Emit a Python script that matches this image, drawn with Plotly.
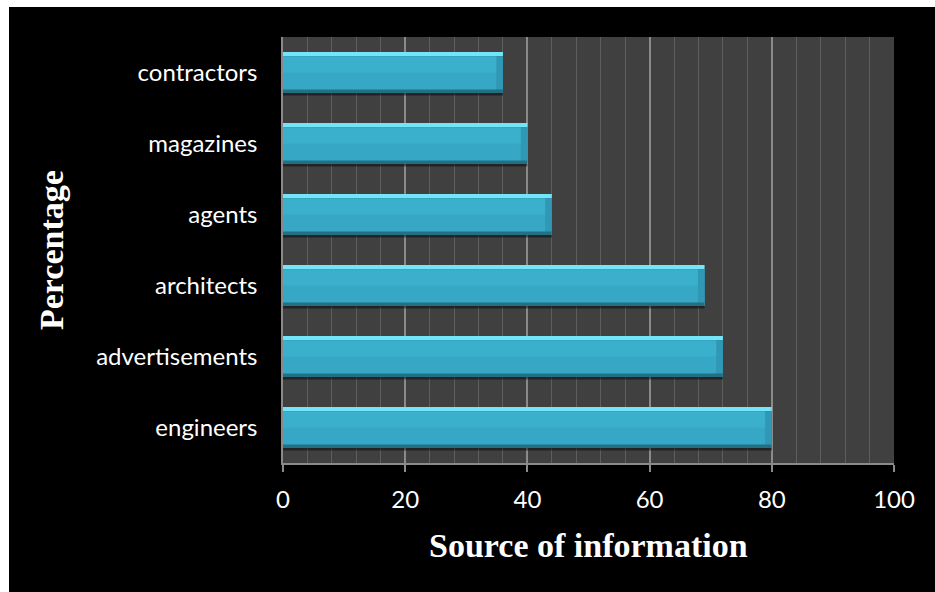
import plotly.graph_objects as go

categories = ["engineers", "advertisements", "architects", "agents", "magazines", "contractors"]
values = [80, 72, 69, 44, 40, 36]
x_ticks = [0, 20, 40, 60, 80, 100]

W, H = 935, 592
ML, MR, MT, MB = 283, 41, 37, 129
pw, ph = W - ML - MR, H - MT - MB

fig = go.Figure()

def layer(xvals, offset, width, color):
    fig.add_trace(go.Bar(
        y=categories, x=xvals, orientation="h", offset=offset, width=width,
        marker=dict(color=color, line=dict(width=0)), hoverinfo="skip",
        showlegend=False))

bw = 0.58
# shadow
layer(values, -bw / 2 - 0.035, bw, "rgba(0,0,0,0.45)")
# top highlight (full bar)
layer(values, -bw / 2, bw, "#72E6F8")
# bottom dark edge
layer(values, -bw / 2, bw - 0.06, "#236F84")
# right end bevel
layer(values, -bw / 2 + 0.05, bw - 0.115, "#3098B4")
# main face
inner = [v - 1.1 for v in values]
layer(inner, -bw / 2 + 0.055, bw - 0.12, "#36A8C6")
# upper lighter half of face
layer(inner, 0.0, bw / 2 - 0.065, "#3AB0CD")

fig.update_layout(
    width=W, height=H, barmode="overlay",
    margin=dict(l=ML, r=MR, t=MT, b=MB, pad=0),
    paper_bgcolor="#000000", plot_bgcolor="#404040",
    font=dict(family="Lato", color="#ffffff", size=24),
    xaxis=dict(
        range=[0, 100], tickvals=x_ticks, ticktext=[str(t) for t in x_ticks],
        showgrid=True, gridcolor="#8a8a8a", gridwidth=1.5,
        minor=dict(dtick=4, showgrid=True, gridcolor="#5e5e5e", gridwidth=1.2, ticks=""),
        ticks="outside", ticklen=7, tickcolor="#8a8a8a", tickwidth=1.5,
        showline=True, linecolor="#8a8a8a", linewidth=1.5,
        zeroline=False, tickfont=dict(size=24, color="#ffffff"),
        ticklabelstandoff=7, fixedrange=True,
    ),
    yaxis=dict(
        categoryorder="array", categoryarray=categories,
        showgrid=False, zeroline=False, ticks="",
        showline=True, linecolor="#8a8a8a", linewidth=1.5,
        tickfont=dict(size=24, color="#ffffff"),
        ticklabelstandoff=19, fixedrange=True,
    ),
    shapes=[
        dict(type="rect", xref="paper", yref="paper", layer="below",
             x0=-0.5, x1=(9 - ML) / pw, y0=-0.5, y1=1.5,
             fillcolor="#ffffff", line=dict(width=0)),
        dict(type="rect", xref="paper", yref="paper", layer="below",
             x0=-0.5, x1=1.5, y0=(ph + MT - 7) / ph, y1=1.5,
             fillcolor="#ffffff", line=dict(width=0)),
    ],
    annotations=[
        dict(text="<b>Source of information</b>", xref="paper", yref="paper",
             x=0.5, y=(ph - 545 + MT) / ph, xanchor="center", yanchor="middle",
             showarrow=False, font=dict(family="Liberation Serif", size=34, color="#ffffff")),
        dict(text="<b>Percentage</b>", xref="paper", yref="paper",
             x=(51 - ML) / pw, y=0.5, xanchor="center", yanchor="middle", textangle=-90,
             showarrow=False, font=dict(family="Liberation Serif", size=34, color="#ffffff")),
    ],
)

fig.write_html("out.html", config={"displayModeBar": False})
